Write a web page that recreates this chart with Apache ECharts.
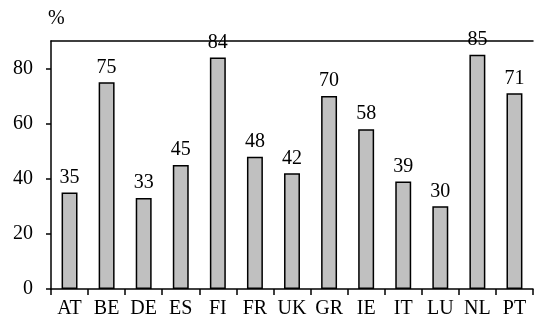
<!DOCTYPE html>
<html><head><meta charset="utf-8">
<script src="https://cdn.jsdelivr.net/npm/echarts@6/dist/echarts.min.js"></script>
<style>html,body{margin:0;padding:0;background:#fff}#c{width:534px;height:325px}</style>
</head><body><div id="c"></div>
<script>
var categories = ['AT','BE','DE','ES','FI','FR','UK','GR','IE','IT','LU','NL','PT'];
var values = [35,75,33,45,84,48,42,70,58,39,30,85,71];
var yTicks = [0,20,40,60,80];
var yName = '%';

var font = 'Liberation Serif';
var chart = echarts.init(document.getElementById('c'));
chart.setOption({
  animation: false,
  textStyle: {fontFamily: font},
  grid: {left: 51, right: 1, top: 41, bottom: 36},
  xAxis: [{
    type: 'category', data: categories, position: 'bottom',
    axisLine: {lineStyle: {color: '#000', width: 1.5}},
    axisTick: {show: true, length: 6, lineStyle: {color: '#000', width: 1.5}},
    axisLabel: {color: '#000', fontFamily: font, fontSize: 20, margin: 10, interval: 0}
  }, {
    type: 'category', data: categories, position: 'top',
    axisLine: {show: true, lineStyle: {color: '#000', width: 1.5}},
    axisTick: {show: false}, axisLabel: {show: false}
  }],
  yAxis: {
    type: 'value', min: 0, max: 90, interval: 20,
    name: yName, nameLocation: 'end', nameGap: 12,
    nameTextStyle: {color: '#000', fontFamily: font, fontSize: 20, align: 'left', padding: [0, 0, 0, -3]},
    axisLine: {show: true, lineStyle: {color: '#000', width: 1.5}},
    axisTick: {show: true, length: 5, inside: false, customValues: yTicks, lineStyle: {color: '#000', width: 1.5}},
    axisLabel: {color: '#000', fontFamily: font, fontSize: 20, margin: 18, customValues: yTicks},
    splitLine: {show: false}
  },
  series: [{
    type: 'bar', data: values, xAxisIndex: 0, barWidth: '43%',
    itemStyle: {color: '#c0c0c0', borderColor: '#000', borderWidth: 1.5},
    label: {show: true, position: 'top', distance: 5, color: '#000', fontFamily: font, fontSize: 20}
  }]
});
</script></body></html>
